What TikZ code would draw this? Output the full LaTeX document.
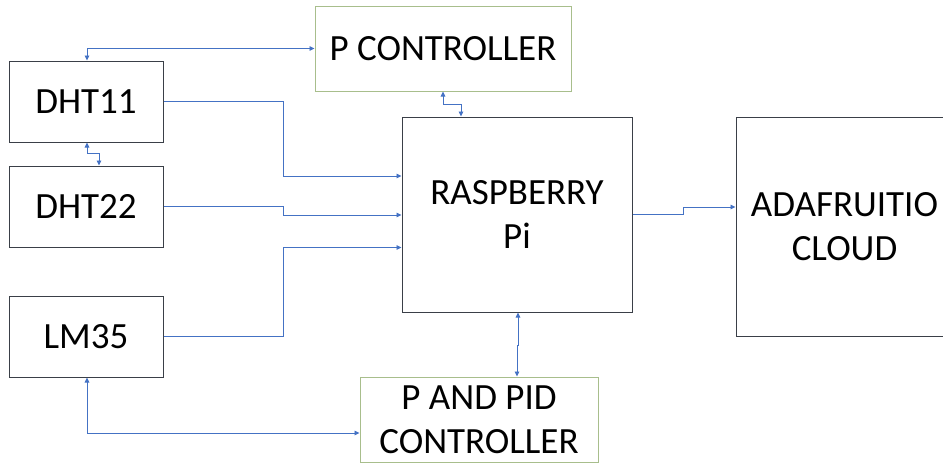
\documentclass[tikz,border=0pt]{standalone}
\usepackage{fontspec}
\setmainfont{Carlito}
\usetikzlibrary{arrows.meta}
\definecolor{boxline}{HTML}{3A3F47}
\definecolor{ctrlline}{HTML}{A8BE8C}
\definecolor{conn}{HTML}{4472C4}
\begin{document}
\begin{tikzpicture}[x=1pt,y=-1pt,
  blockbox/.style={draw=boxline,line width=1pt,rectangle,inner sep=0pt,align=center,
    font=\fontsize{37}{44}\selectfont,text=black},
  ctrlbox/.style={blockbox,draw=ctrlline},
  sigline/.style={draw=conn,line width=0.9pt,-{Triangle[length=5pt,width=4.5pt]}},
  biline/.style={draw=conn,line width=0.9pt,{Triangle[length=5pt,width=4.5pt]}-{Triangle[length=5pt,width=4.5pt]}}]
\useasboundingbox (0,0) rectangle (943,463);
\clip (0,0) rectangle (943,463);
\fill[white] (0,0) rectangle (943,463);

\node[blockbox,minimum width=154pt,minimum height=81pt] (dht11) at (86,101.5) {DHT11};
\node[blockbox,minimum width=154pt,minimum height=81pt] (dht22) at (86,206.5) {DHT22};
\node[blockbox,minimum width=154pt,minimum height=81pt] (lm35) at (86,336.5) {LM35};
\node[ctrlbox,minimum width=256pt,minimum height=85pt] (pc) at (443,48.5) {P CONTROLLER};
\node[blockbox,minimum width=230pt,minimum height=195pt] (rpi) at (517,214.5) {RASPBERRY\\Pi};
\node[ctrlbox,minimum width=238pt,minimum height=85pt] (ppid) at (479,419.5) {P AND PID\\CONTROLLER};
\node[blockbox,minimum width=217pt,minimum height=219pt] (cloud) at (844.5,226.5) {ADAFRUITIO\\CLOUD};

% DHT11 <-> P CONTROLLER
\draw[biline] ([xshift=1pt]dht11.north) |- (pc.west);
% DHT11 <-> DHT22
\draw[biline] ([xshift=1pt]dht11.south) -- ++(0,11) -| ([xshift=13pt]dht22.north);
% sensors -> Raspberry Pi
\draw[sigline] (dht11.east) -- ++(120,0) |- ([yshift=38.5pt]rpi.west);
\draw[sigline] (dht22.east) -- ++(120,0) |- ([yshift=-0.5pt]rpi.west);
\draw[sigline] (lm35.east) -- ++(120,0) |- ([yshift=-33pt]rpi.west);
% LM35 <-> P AND PID
\draw[biline] ([xshift=1pt]lm35.south) |- ([yshift=-13.5pt]ppid.west);
% P CONTROLLER <-> Raspberry Pi
\draw[biline] (pc.south) -- ++(0,13) -| ([xshift=-56pt]rpi.north);
% Raspberry Pi <-> P AND PID
\draw[biline] ([xshift=1pt]rpi.south) -- ++(0,33) -| ([xshift=38pt]ppid.north);
% Raspberry Pi -> cloud
\draw[sigline] (rpi.east) -- ++(51,0) |- ([yshift=19.5pt]cloud.west);
\end{tikzpicture}
\end{document}
